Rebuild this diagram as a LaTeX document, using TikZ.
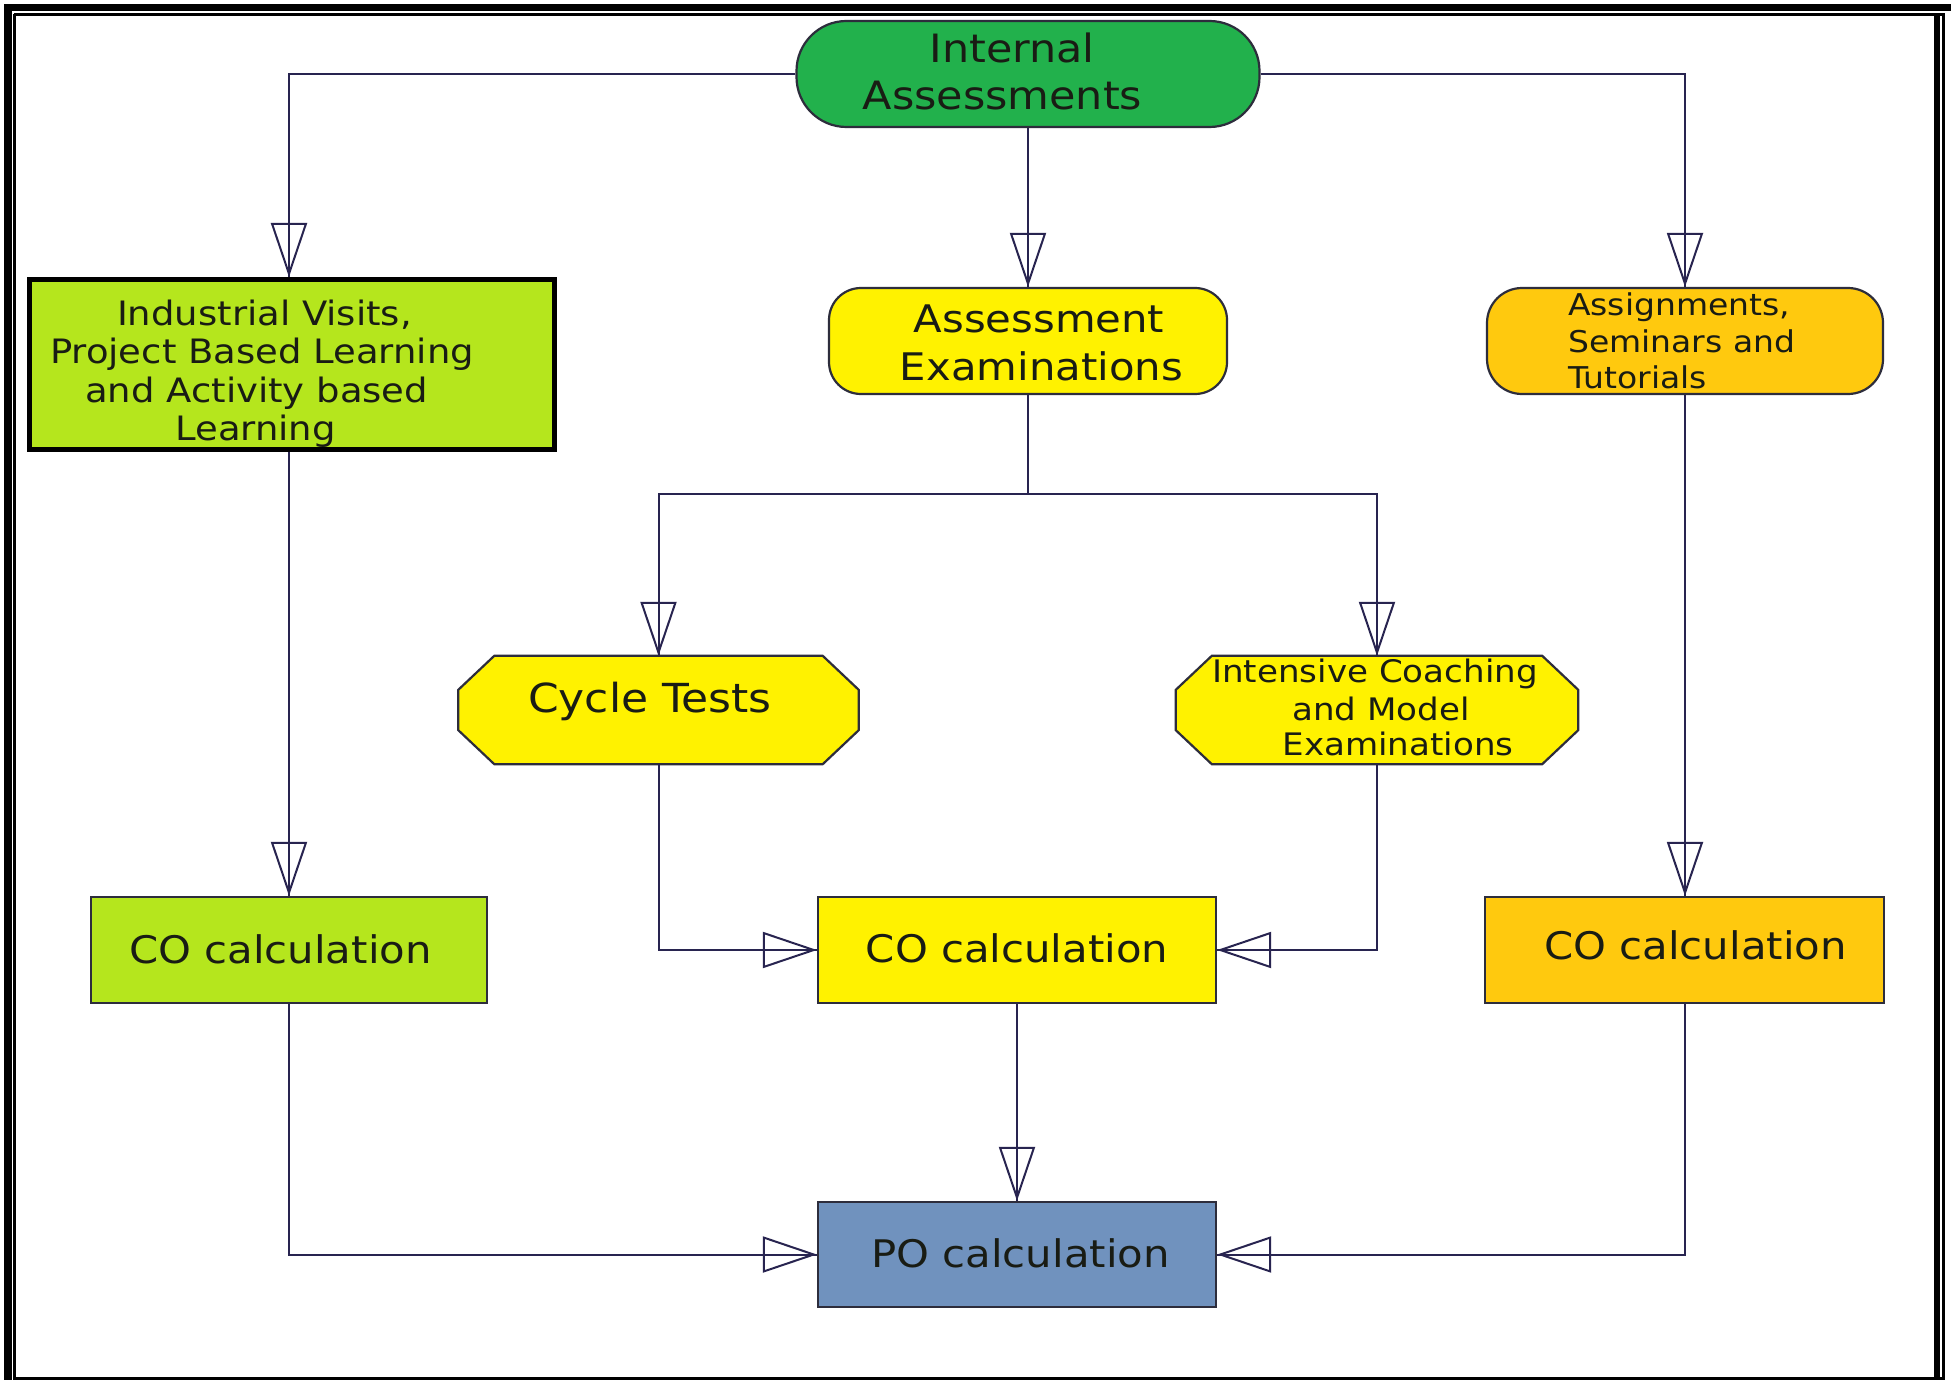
\documentclass[tikz,border=0pt]{standalone}
\usepackage{fontspec}
\usetikzlibrary{arrows.meta,calc}
\newfontfamily\djsans[FakeStretch=1.1]{DejaVu Sans}
\newcommand\myfontA{\djsans\fontsize{38}{46}\selectfont}
\newcommand\myfontE{\djsans\fontsize{39}{46}\selectfont}
\newcommand\myfontF{\djsans\fontsize{40}{46}\selectfont}
\newcommand\myfontB{\djsans\fontsize{33.6}{40}\selectfont}
\newcommand\myfontC{\djsans\fontsize{30}{36}\selectfont}
\newcommand\myfontD{\djsans\fontsize{31}{37}\selectfont}
\definecolor{iagreen}{RGB}{34,177,76}
\definecolor{limec}{RGB}{181,230,29}
\definecolor{yel}{RGB}{255,242,0}
\definecolor{goldc}{RGB}{255,201,14}
\definecolor{poblue}{RGB}{112,146,190}
\definecolor{linec}{RGB}{40,36,80}
\definecolor{boxc}{RGB}{45,45,60}
\definecolor{txtc}{RGB}{25,28,20}
\tikzset{
  line/.style={draw=linec, line width=2pt},
  conn/.style={draw=linec, line width=2pt,
    postaction={draw=linec, line width=2pt, -{Triangle[open,length=54pt,width=36pt]}}},
  box/.style={draw=boxc, line width=2.2pt, inner sep=0pt, rectangle},
  ghost/.style={inner sep=0pt, rectangle},
  txt/.style={anchor=base, inner sep=0pt, text=txtc},
  txtl/.style={anchor=base west, inner sep=0pt, text=txtc},
}
\begin{document}
\begin{tikzpicture}[x=1pt,y=-1pt]
\useasboundingbox (0,0) rectangle (1951,1380);
\fill[white] (0,0) rectangle (1951,1380);
% frame
\fill[black] (4,4) rectangle (1951,11);
\fill[black] (4,4) rectangle (12,1380);
\fill[black] (1934,15) rectangle (1940,1380);
\draw[black, line width=2.6pt] (14.3,14.3) -- (1943.5,14.3) -- (1943.5,1380);
\draw[black, line width=2.6pt] (14.3,14.3) -- (14.3,1378.5) -- (1943.5,1378.5);

% nodes
\node[box, fill=iagreen, rounded corners=50pt, minimum width=463pt, minimum height=106pt] (ia) at (1028,74) {};
\node[box, draw=black, line width=5pt, fill=limec, minimum width=525pt, minimum height=170pt] (ind) at (292,364.5) {};
\node[box, fill=yel, rounded corners=32pt, minimum width=398pt, minimum height=106pt] (ae) at (1028,341) {};
\node[box, fill=goldc, rounded corners=35pt, minimum width=396pt, minimum height=106pt] (as) at (1685,341) {};
\node[ghost, minimum width=400pt, minimum height=108pt] (ct) at (658.5,710) {};
\node[ghost, minimum width=402pt, minimum height=108pt] (ic) at (1377,710) {};
\node[box, fill=limec, minimum width=396pt, minimum height=106pt] (col) at (289,950) {};
\node[box, fill=yel, minimum width=398pt, minimum height=106pt] (com) at (1017,950) {};
\node[box, fill=goldc, minimum width=399pt, minimum height=106pt] (cor) at (1684.5,950) {};
\node[box, fill=poblue, minimum width=398pt, minimum height=105pt] (po) at (1017,1254.5) {};

% octagons
\draw[box, fill=yel] ($(ct.north west)+(36,0)$) -- ($(ct.north east)+(-36,0)$) -- ($(ct.north east)+(0,34)$) -- ($(ct.south east)+(0,-34)$) -- ($(ct.south east)+(-36,0)$) -- ($(ct.south west)+(36,0)$) -- ($(ct.south west)+(0,-34)$) -- ($(ct.north west)+(0,34)$) -- cycle;
\draw[box, fill=yel] ($(ic.north west)+(36,0)$) -- ($(ic.north east)+(-36,0)$) -- ($(ic.north east)+(0,34)$) -- ($(ic.south east)+(0,-34)$) -- ($(ic.south east)+(-36,0)$) -- ($(ic.south west)+(36,0)$) -- ($(ic.south west)+(0,-34)$) -- ($(ic.north west)+(0,34)$) -- cycle;

% texts
\node[txt, font=\myfontE] (iat1) at (1012,63) {Internal};
\node[txt, font=\myfontE] (iat2) at (1002.5,110) {Assessments};
\node[txt, font=\myfontB] (indt1) at (264.5,325) {Industrial Visits,};
\node[txt, font=\myfontB] (indt2) at (262,363) {Project Based Learning};
\node[txt, font=\myfontB] (indt3) at (256.7,402) {and Activity based};
\node[txt, font=\myfontB] (indt4) at (255.6,440) {Learning};
\node[txt, font=\myfontA] (aet1) at (1039,332) {Assessment};
\node[txt, font=\myfontA] (aet2) at (1041.5,380) {Examinations};
\node[txtl, font=\myfontC] (ast1) at (1568,315) {Assignments,};
\node[txtl, font=\myfontC] (ast2) at (1568,352) {Seminars and};
\node[txtl, font=\myfontC] (ast3) at (1568,388) {Tutorials};
\node[txt, font=\myfontF] (ctt) at (650,712) {Cycle Tests};
\node[txt, font=\myfontD] (ict1) at (1375,682) {Intensive Coaching};
\node[txt, font=\myfontD] (ict2) at (1381,720) {and Model};
\node[txt, font=\myfontD] (ict3) at (1398,755) {Examinations};
\node[txt, font=\myfontA] (colt) at (280.5,963) {CO calculation};
\node[txt, font=\myfontA] (comt) at (1017,962) {CO calculation};
\node[txt, font=\myfontA] (cort) at (1695.5,959) {CO calculation};
\node[txt, font=\myfontA] (pot) at (1020.5,1267.5) {PO calculation};

% connectors
\coordinate (split) at (1028,494);
\draw[conn] (ia.west) -| (ind.north -| col.north);
\draw[conn] (ia.south) -- (ae.north);
\draw[conn] (ia.east) -| (as.north);
\draw[line] (ae.south) -- (split);
\draw[conn] (split) -| (ct.north);
\draw[conn] (split) -| (ic.north);
\draw[conn] (ind.south -| col.north) -- (col.north);
\draw[conn] (as.south) -- (as.south |- cor.north);
\draw[conn] (ct.south) |- (com.west);
\draw[conn] (ic.south) |- (com.east);
\draw[conn] (com.south) -- (com.south |- po.north);
\draw[conn] (col.south) |- (po.west);
\draw[conn] (cor.south) |- (po.east);
\end{tikzpicture}
\end{document}
